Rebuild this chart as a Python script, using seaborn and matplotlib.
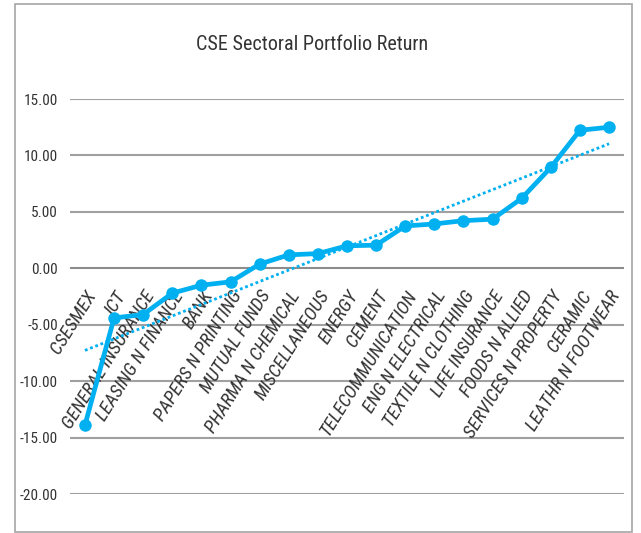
import numpy as np
import pandas as pd
import seaborn as sns
import matplotlib.pyplot as plt
from matplotlib.patches import Rectangle

sectors = ['CSESMEX', 'ICT', 'GENERAL INSURANCE', 'LEASING N FINANCE', 'BANK',
           'PAPERS N PRINTING', 'MUTUAL FUNDS', 'PHARMA N CHEMICAL', 'MISCELLANEOUS',
           'ENERGY', 'CEMENT', 'TELECOMMUNICATION', 'ENG N ELECTRICAL',
           'TEXTILE N CLOTHING', 'LIFE INSURANCE', 'FOODS N ALLIED',
           'SERVICES N PROPERTY', 'CERAMIC', 'LEATHR N FOOTWEAR']
returns = [-13.9, -4.4, -4.1, -2.2, -1.5, -1.2, 0.37, 1.19, 1.3,
           1.99, 2.05, 3.75, 3.93, 4.22, 4.35, 6.2, 8.94, 12.23, 12.5]
yticks = [15, 10, 5, 0, -5, -10, -15, -20]

sns.set_style('white')
plt.rcParams['font.family'] = ['Liberation Sans Narrow', 'DejaVu Sans Condensed',
                               'Roboto Condensed', 'Liberation Sans']

blue = '#00b0f0'
df = pd.DataFrame({'pos': np.arange(len(sectors)), 'ret': returns})

fig = plt.figure(figsize=(6.41, 5.33), dpi=100)
ax = fig.add_axes([70.4 / 641, 39 / 533, 553.2 / 641, 395 / 533])

# chart border
fig.patches.append(Rectangle((15 / 641, 1 / 533), 617 / 641, 528 / 533,
                             transform=fig.transFigure, fill=False,
                             edgecolor='#a6a6a6', linewidth=1.2))

for t in yticks:
    ax.axhline(t, color='#a0a0a0' if t != 0 else '#8c8c8c', lw=1.5, zorder=0)

sns.lineplot(data=df, x='pos', y='ret', ax=ax, color=blue, lw=3.4,
             marker='o', markersize=9, markeredgewidth=0, sort=False)

# linear trendline
k, b = np.polyfit(df['pos'], df['ret'], 1)
ax.plot(df['pos'], k * df['pos'] + b, color=blue, lw=2, ls=(0, (1, 1)))

ax.set_xlim(-0.5, len(sectors) - 0.5)
ax.set_ylim(-20, 15)
ax.set_yticks(yticks)
ax.set_yticklabels([f'{t:.2f}' for t in yticks], fontsize=11, color='#333333')
ax.tick_params(axis='y', length=0, pad=9)

ax.spines['bottom'].set_position(('data', 0))
for s in ['top', 'right', 'left', 'bottom']:
    ax.spines[s].set_visible(False)
ax.set_xticks(df['pos'])
ax.set_xticklabels(sectors, rotation=58, ha='right', rotation_mode='anchor',
                   fontsize=13.5, style='italic', color='#333333')
ax.tick_params(axis='x', length=0, pad=14)
ax.set_xlabel('')
ax.set_ylabel('')

fig.text(312 / 641, 1 - 45 / 533, 'CSE Sectoral Portfolio Return',
         ha='center', va='center', fontsize=14.5, color='#333333')

fig.savefig('out.png', dpi=100)
